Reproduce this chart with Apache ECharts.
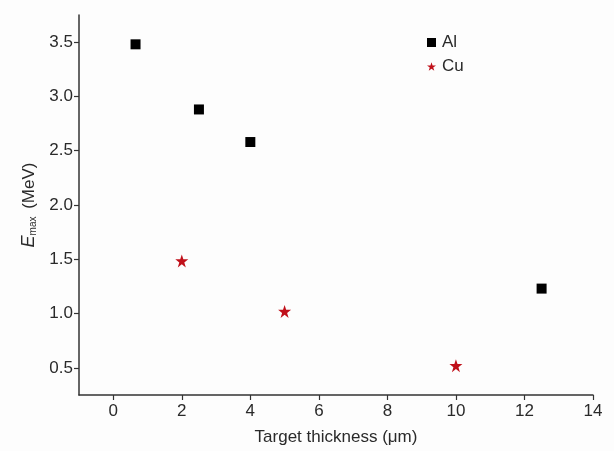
<!DOCTYPE html>
<html>
<head>
    <meta charset="utf-8"/>
    <title>Emax vs target thickness</title>
    <script src="https://cdn.jsdelivr.net/npm/echarts@6/dist/echarts.min.js"></script>
    <style>
        html, body { margin: 0; padding: 0; background: #fdfdfd; }
        #main { width: 614px; height: 451px; }
    </style>
</head>
<body>
<div id="main"></div>
<script>
    // 数据
    var alX = [0.65, 2.5, 4.0, 12.5];
    var alY = [3.48, 2.88, 2.58, 1.23];
    var cuX = [2, 5, 10];
    var cuY = [1.485, 1.02, 0.52];
    var xTicks = [0, 2, 4, 6, 8, 10, 12, 14];
    var yTicks = [0.5, 1.0, 1.5, 2.0, 2.5, 3.0, 3.5];

    function pairs(xs, ys) {
        var out = [];
        for (var i = 0; i < xs.length; i++) {
            out.push([xs[i], ys[i]]);
        }
        return out;
    }

    var txt = '#2a2a2a';
    var axisColor = '#333';
    var font = 'Liberation Sans, Arial';
    var starPath = 'path://M50,0 L61.8,35.1 L98.9,35.1 L68.9,57.1 L80.2,92.7 L50,70.6 L19.8,92.7 L31.1,57.1 L1.1,35.1 L38.2,35.1 Z';

    var chart = echarts.init(document.getElementById('main'));
    var option = {
        backgroundColor: '#fdfdfd',
        animation: false,
        grid: { left: 79, right: 21, top: 15, bottom: 54 },
        legend: {
            left: 422,
            top: 29,
            orient: 'vertical',
            itemGap: 7,
            itemWidth: 9,
            itemHeight: 9,
            textStyle: { color: txt, fontSize: 17, fontFamily: font, padding: [0, 0, 0, 1] },
            data: [
                { name: 'Al', icon: 'rect', itemStyle: { color: '#000' } },
                { name: 'Cu', icon: starPath }
            ]
        },
        xAxis: {
            type: 'value',
            min: -1,
            max: 14,
            name: 'Target thickness (\u03bcm)',
            nameLocation: 'middle',
            nameGap: 34,
            nameTextStyle: { color: txt, fontSize: 17, fontFamily: font },
            splitLine: { show: false },
            axisLine: { onZero: false, lineStyle: { color: axisColor, width: 1.5 } },
            axisTick: { customValues: xTicks, length: 5, lineStyle: { color: axisColor, width: 1.2 } },
            axisLabel: {
                customValues: xTicks,
                color: txt, fontSize: 17, margin: 8,
                fontFamily: font
            }
        },
        yAxis: {
            type: 'value',
            min: 0.25,
            max: 3.75,
            name: '{e|E}{s|max} (MeV)',
            nameLocation: 'middle',
            nameGap: 40,
            nameTextStyle: {
                color: txt, fontSize: 17, fontFamily: font,
                rich: {
                    e: { fontStyle: 'italic', fontSize: 18, color: txt, fontFamily: font },
                    s: { fontSize: 10, color: txt, padding: [9, 3, 0, 0], fontFamily: font }
                }
            },
            splitLine: { show: false },
            axisLine: { onZero: false, lineStyle: { color: axisColor, width: 1.5 } },
            axisTick: { customValues: yTicks, length: 5, lineStyle: { color: axisColor, width: 1.2 } },
            axisLabel: {
                customValues: yTicks,
                color: txt, fontSize: 17, margin: 6,
                fontFamily: font,
                formatter: function (v) { return v.toFixed(1); }
            }
        },
        series: [
            {
                name: 'Al',
                type: 'scatter',
                symbol: 'rect',
                symbolSize: 10,
                itemStyle: { color: '#000', opacity: 1 },
                data: pairs(alX, alY)
            },
            {
                name: 'Cu',
                type: 'scatter',
                symbol: starPath,
                symbolSize: 13,
                itemStyle: { color: '#c0101a', opacity: 1 },
                data: pairs(cuX, cuY)
            }
        ]
    };
    chart.setOption(option);

    window.onresize = function () {
        chart.resize();
    };
</script>
</body>
</html>
